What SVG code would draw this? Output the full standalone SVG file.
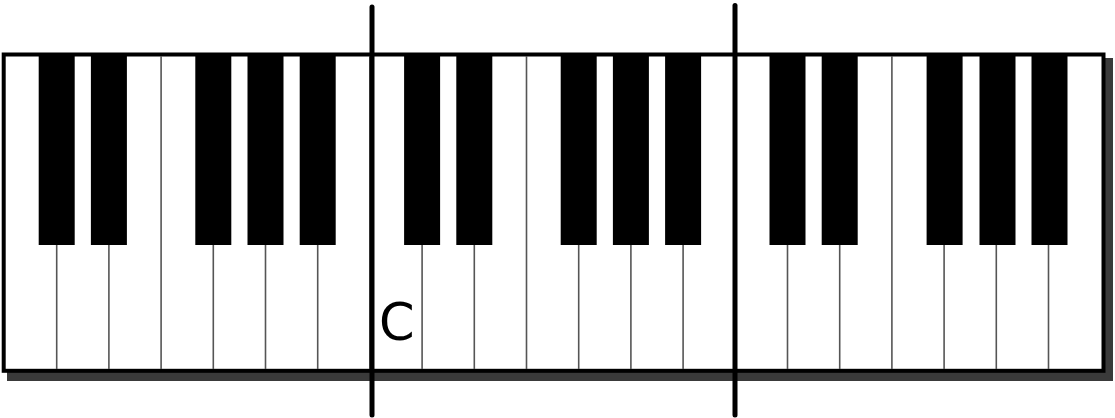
<svg xmlns="http://www.w3.org/2000/svg" width="1115" height="418" viewBox="0 0 1115 418">
  <defs>
    <style>
      .shadow { fill: #3a3a3a; }
      .frame { fill: #ffffff; stroke: #000000; stroke-width: 4; }
      .black { fill: #000000; }
      .div { stroke: #555555; stroke-width: 1.6; fill: none; }
      .bar { stroke: #000000; stroke-width: 5; stroke-linecap: round; fill: none; }
      .label { font-family: "DejaVu Sans", Verdana, sans-serif; font-size: 51px; fill: #000000; }
    </style>
  </defs>
  <rect width="1115" height="418" fill="#ffffff"/>
  <g id="keyboard">
    <rect class="shadow" x="7" y="58" width="1106" height="323"/>
    <rect class="frame" x="3.7" y="54.5" width="1099.8" height="316.3"/>
    <g id="dividers">
      <line class="div" x1="56.7" y1="245" x2="56.7" y2="369"/>
      <line class="div" x1="108.9" y1="245" x2="108.9" y2="369"/>
      <line class="div" x1="161.1" y1="56" x2="161.1" y2="369"/>
      <line class="div" x1="213.3" y1="245" x2="213.3" y2="369"/>
      <line class="div" x1="265.5" y1="245" x2="265.5" y2="369"/>
      <line class="div" x1="317.7" y1="245" x2="317.7" y2="369"/>
      <line class="div" x1="369.9" y1="56" x2="369.9" y2="369"/>
      <line class="div" x1="422.1" y1="245" x2="422.1" y2="369"/>
      <line class="div" x1="474.3" y1="245" x2="474.3" y2="369"/>
      <line class="div" x1="526.5" y1="56" x2="526.5" y2="369"/>
      <line class="div" x1="578.7" y1="245" x2="578.7" y2="369"/>
      <line class="div" x1="630.9" y1="245" x2="630.9" y2="369"/>
      <line class="div" x1="683.1" y1="245" x2="683.1" y2="369"/>
      <line class="div" x1="735.3" y1="56" x2="735.3" y2="369"/>
      <line class="div" x1="787.5" y1="245" x2="787.5" y2="369"/>
      <line class="div" x1="839.7" y1="245" x2="839.7" y2="369"/>
      <line class="div" x1="891.9" y1="56" x2="891.9" y2="369"/>
      <line class="div" x1="944.1" y1="245" x2="944.1" y2="369"/>
      <line class="div" x1="996.3" y1="245" x2="996.3" y2="369"/>
      <line class="div" x1="1048.5" y1="245" x2="1048.5" y2="369"/>
    </g>
    <g id="black-keys">
      <rect class="black" x="38.7" y="54" width="36" height="191"/>
      <rect class="black" x="90.9" y="54" width="36" height="191"/>
      <rect class="black" x="195.3" y="54" width="36" height="191"/>
      <rect class="black" x="247.5" y="54" width="36" height="191"/>
      <rect class="black" x="299.7" y="54" width="36" height="191"/>
      <rect class="black" x="404.1" y="54" width="36" height="191"/>
      <rect class="black" x="456.3" y="54" width="36" height="191"/>
      <rect class="black" x="560.7" y="54" width="36" height="191"/>
      <rect class="black" x="612.9" y="54" width="36" height="191"/>
      <rect class="black" x="665.1" y="54" width="36" height="191"/>
      <rect class="black" x="769.5" y="54" width="36" height="191"/>
      <rect class="black" x="821.7" y="54" width="36" height="191"/>
      <rect class="black" x="926.6" y="54" width="36" height="191"/>
      <rect class="black" x="979.5" y="54" width="36" height="191"/>
      <rect class="black" x="1031.5" y="54" width="36" height="191"/>
    </g>
  </g>
  <g id="connectors">
    <line class="bar" x1="372" y1="7" x2="372" y2="415"/>
    <line class="bar" x1="735" y1="5.5" x2="735" y2="415"/>
  </g>
  <g id="label-c">
    <text class="label" x="379" y="340">C</text>
  </g>
</svg>
